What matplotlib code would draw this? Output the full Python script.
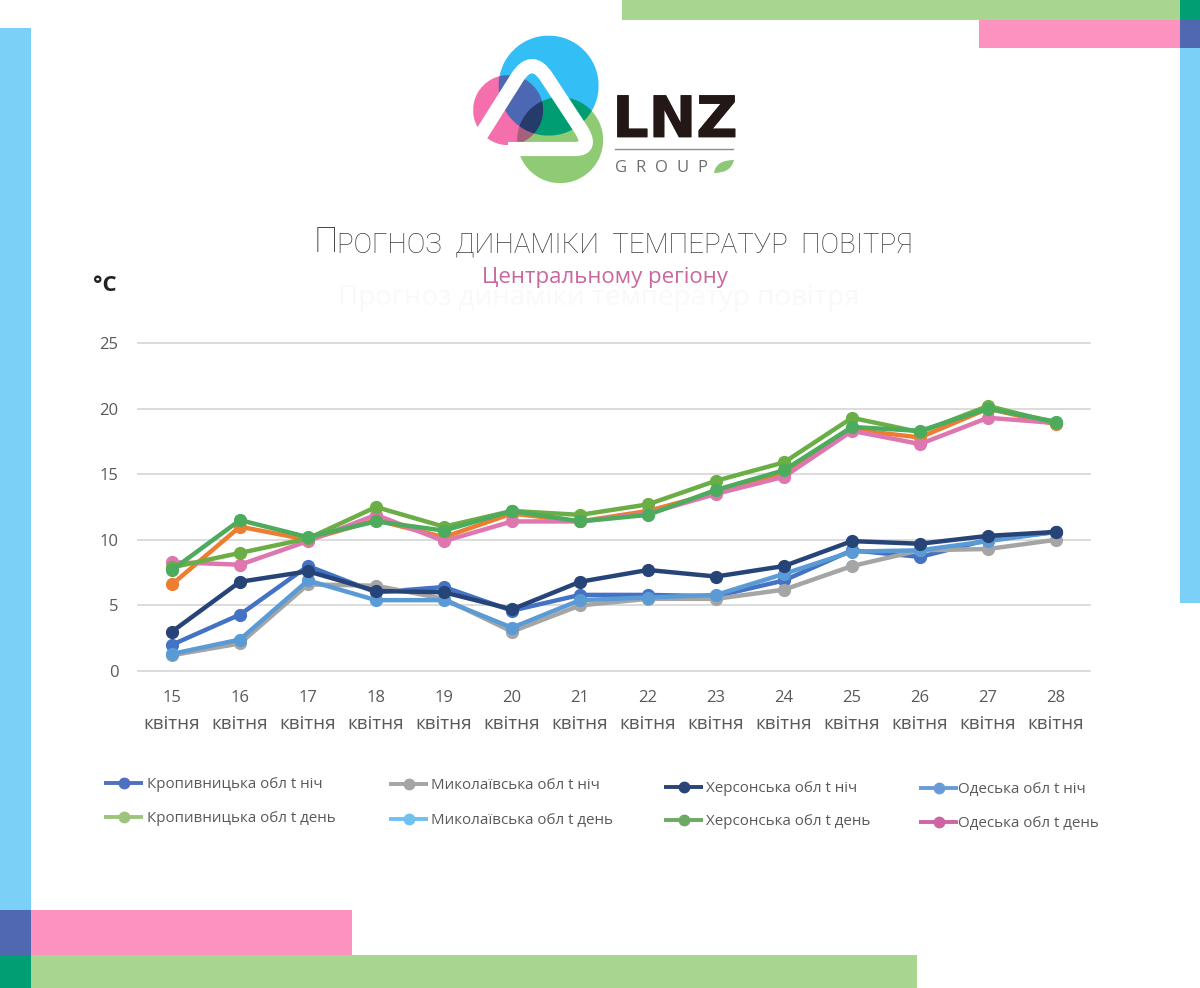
import matplotlib
matplotlib.use("Agg")
import matplotlib.pyplot as plt
import numpy as np
from matplotlib.patches import PathPatch, Rectangle
from matplotlib.path import Path
import matplotlib.patheffects as pe

days = [15, 16, 17, 18, 19, 20, 21, 22, 23, 24, 25, 26, 27, 28]
y_ticks = [0, 5, 10, 15, 20, 25]

kropyv_night = [2.0, 4.3, 8.0, 6.0, 6.4, 4.6, 5.8, 5.8, 5.7, 6.9, 9.2, 8.7, 10.0, 10.6]
mykol_night = [1.2, 2.1, 6.6, 6.5, 5.5, 3.0, 5.0, 5.5, 5.5, 6.2, 8.0, 9.2, 9.3, 10.0]
kherson_night = [3.0, 6.8, 7.6, 6.1, 6.0, 4.7, 6.8, 7.7, 7.2, 8.0, 9.9, 9.7, 10.3, 10.6]
odesa_night = [1.3, 2.4, 6.9, 5.4, 5.4, 3.3, 5.4, 5.6, 5.8, 7.4, 9.1, 9.2, 9.9, 10.6]
kropyv_day = [7.9, 9.0, 10.1, 12.5, 11.0, 12.2, 11.9, 12.7, 14.5, 15.9, 19.3, 18.2, 20.2, 18.9]
mykol_day = [6.6, 11.0, 10.0, 11.5, 10.2, 12.0, 11.4, 12.2, 13.6, 15.0, 18.4, 17.8, 20.0, 18.8]
kherson_day = [7.7, 11.5, 10.2, 11.4, 10.7, 12.2, 11.4, 11.9, 13.8, 15.3, 18.6, 18.3, 20.0, 19.0]
odesa_day = [8.3, 8.1, 9.9, 11.9, 9.9, 11.4, 11.4, 12.0, 13.5, 14.8, 18.3, 17.3, 19.3, 18.9]

series_names = [
    "Кропивницька обл t ніч", "Миколаївська обл t ніч", "Херсонська обл t ніч", "Одеська обл t ніч",
    "Кропивницька обл t день", "Миколаївська обл t день", "Херсонська обл t день", "Одеська обл t день",
]
series_values = [kropyv_night, mykol_night, kherson_night, odesa_night,
                 kropyv_day, mykol_day, kherson_day, odesa_day]
# the line colours and the legend colours differ in the picture
line_colors = ["#4472C4", "#A5A5A5", "#264478", "#5B9BD5", "#6BAE45", "#ED7D31", "#4CAB5C", "#DE76B0"]
legend_colors = ["#4F6FC0", "#A5A5A5", "#2A4478", "#6A9BD8", "#9CC47C", "#6FC1F0", "#6DAA64", "#CE64A4"]
draw_order = [0, 1, 3, 2, 5, 7, 4, 6]

plt.rcParams["font.family"] = ["Open Sans", "DejaVu Sans"]
W, H = 1200, 988
fig = plt.figure(figsize=(W / 100, H / 100), dpi=100, facecolor="white")

# page layer in pixel coordinates
page = fig.add_axes([0, 0, 1, 1])
page.axis("off")

BLUE, INDIGO, TEAL, PINK, GREEN = "#7AD0F7", "#4F68B0", "#009E72", "#FB93BE", "#A8D690"
frame_bars = [
    (622, 0, 558, 20, GREEN), (979, 20, 201, 28, PINK), (1180, 0, 20, 20, TEAL),
    (1180, 20, 20, 28, INDIGO), (1180, 48, 20, 555, BLUE), (0, 28, 31, 882, BLUE),
    (0, 910, 31, 45, INDIGO), (0, 955, 31, 33, TEAL), (31, 910, 321, 45, PINK),
    (31, 955, 886, 33, GREEN),
]
for x, y, w, h, color in frame_bars:
    page.add_patch(Rectangle((x, y), w, h, fc=color, ec="none"))

# logo: three overlapping circles, then the white triangle band on top
ss = 4
gx, gy = np.meshgrid(np.arange(465, 610, 1 / ss), np.arange(30, 190, 1 / ss))
in_blue = (gx - 548.5) ** 2 + (gy - 85.5) ** 2 < 50 ** 2
in_green = (gx - 560) ** 2 + (gy - 140) ** 2 < 43 ** 2
in_pink = (gx - 508) ** 2 + (gy - 110) ** 2 < 35 ** 2
img = np.ones(gx.shape + (3,))
logo_colors = [
    (in_blue, "#33BFF5"), (in_green, "#8FCB74"), (in_pink, "#F56FAE"),
    (in_blue & in_green, "#009E72"), (in_blue & in_pink, "#4E68B3"),
    (in_pink & in_green, "#A65F7C"), (in_blue & in_pink & in_green, "#263B6B"),
]
for mask, color in logo_colors:
    img[mask] = matplotlib.colors.to_rgb(color)
img = img.reshape(160, ss, 145, ss, 3).mean(axis=(1, 3))
page.imshow(img, extent=(465, 610, 190, 30), interpolation="bilinear", zorder=2)
page.set_aspect("auto")

band_verts = [(474, 146), (517.5, 77), (532, 55), (546.5, 77), (580, 128), (594, 149), (575, 149), (508, 149)]
band_codes = [Path.MOVETO, Path.LINETO, Path.CURVE3, Path.CURVE3, Path.LINETO, Path.CURVE3, Path.CURVE3, Path.LINETO]
page.add_patch(PathPatch(Path(band_verts, band_codes), fc="none", ec="white", lw=10.2,
                         capstyle="butt", joinstyle="round", zorder=3))

logo_text = page.text(675, 137, "LNZ", fontsize=41, fontweight="bold", color="#231815", ha="center",
                      va="baseline", family="DejaVu Sans", zorder=3)
logo_text.set_path_effects([pe.withStroke(linewidth=0.6, foreground="#231815")])
page.plot([615, 733], [149, 149], color="#8C8C8C", lw=1.0, zorder=3)
for letter, x in zip("GROUP", [615, 635, 655, 677, 697]):
    page.text(x, 172, letter, fontsize=12, color="#6E6E6E", ha="left", va="baseline", zorder=3)
leaf_verts = [(714, 173), (716, 160), (734, 160), (731, 173), (714, 173)]
leaf_codes = [Path.MOVETO, Path.CURVE3, Path.CURVE3, Path.CURVE3, Path.CURVE3]
page.add_patch(PathPatch(Path(leaf_verts, leaf_codes), fc="#8CC878", ec="none", zorder=3))

# titles
title_color = "#3C3C3C"
page.text(314, 252, "П", fontsize=25, color=title_color, ha="left", va="baseline",
          family="Roboto", fontweight="light")
page.text(337, 252, "РОГНОЗ  ДИНАМІКИ  ТЕМПЕРАТУР  ПОВІТРЯ", fontsize=20, color=title_color,
          ha="left", va="baseline", family="Roboto", fontweight="light")
page.text(605, 277, "Центральному регіону", fontsize=16, color="#C9689F", ha="center", va="center")
page.text(599, 298, "Прогноз динаміки температур повітря", fontsize=20, color="#F9F9F9",
          ha="center", va="center")
page.text(105, 285, "°C", fontsize=16, color="#222222", ha="center", va="center", fontweight="bold")

# chart
ax = fig.add_axes([138 / W, 1 - 671 / H, (1090 - 138) / W, (671 - 343) / H])
ax.patch.set_alpha(0)
for i in draw_order:
    ax.plot(days, series_values[i], color=line_colors[i], lw=3.2, marker="o", ms=8.5, clip_on=False)
ax.set_xlim(14.5, 28.5)
ax.set_ylim(0, 25)
ax.set_yticks(y_ticks)
ax.set_xticks(days)
ax.tick_params(length=0, labelsize=12, labelcolor="#595959")
ax.tick_params(axis="x", pad=14)
ax.tick_params(axis="y", pad=14)
ax.grid(axis="y", color="#D9D9D9", lw=1.3)
ax.set_axisbelow(True)
for gridline in ax.get_ygridlines():
    gridline.set_clip_on(False)
for spine in ax.spines.values():
    spine.set_visible(False)
for d in days:
    ax.annotate("квітня", xy=(d, 0), xycoords=ax.get_xaxis_transform(), xytext=(0, -38),
                textcoords="offset points", fontsize=13.5, color="#595959", ha="center", va="center")

# legend sits staggered, so each entry is placed by hand
handle_x = [104, 389, 664, 919]
text_x = [147, 431, 706, 958]
entry_y = [[783, 784, 787, 788], [817, 819, 820, 822]]
for i, name in enumerate(series_names):
    col, row = i % 4, i // 4
    y = entry_y[row][col]
    page.plot([handle_x[col], handle_x[col] + 39], [y, y], color=legend_colors[i], lw=2.8,
              solid_capstyle="butt")
    page.plot([handle_x[col] + 19.5], [y], "o", color=legend_colors[i], ms=7.5)
    page.text(text_x[col], y + 1, name, fontsize=10.9, color="#595959", ha="left", va="center")

page.set_xlim(0, W)
page.set_ylim(H, 0)

fig.savefig("out.png", dpi=100)
